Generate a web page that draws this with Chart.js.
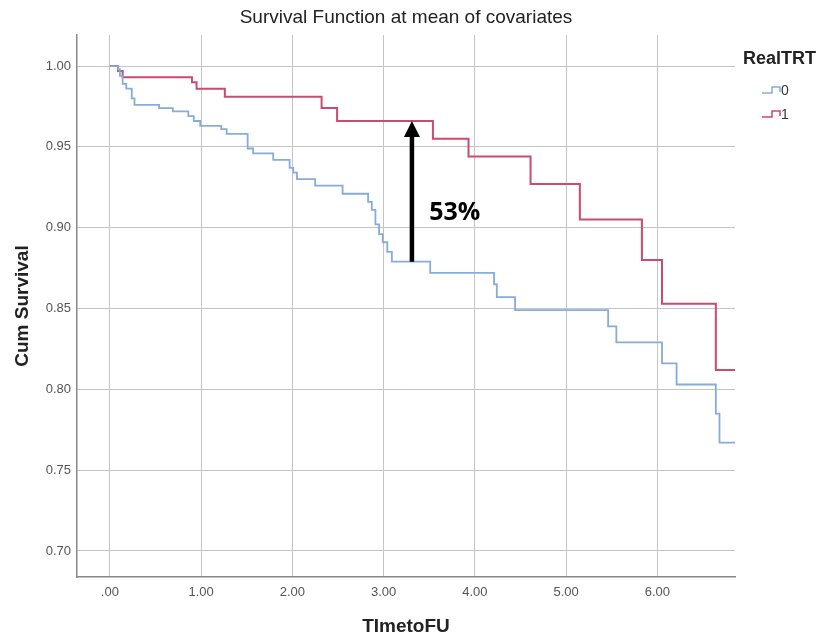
<!DOCTYPE html>
<html>
<head>
<meta charset="utf-8">
<script src="https://cdn.jsdelivr.net/npm/chart.js@4/dist/chart.umd.min.js"></script>
<style>
  body { margin: 0; background: #fff; }
</style>
</head>
<body>
<canvas id="survChart" width="821" height="641"></canvas>
<script>
// Survival curves (time, cum survival)
const timeTrt0 = [0, 0.09, 0.11, 0.14, 0.18, 0.24, 0.27, 0.54, 0.69, 0.86, 0.92, 0.99, 1.22, 1.28, 1.51, 1.57, 1.79, 1.97, 2.01, 2.05, 2.25, 2.55, 2.83, 2.87, 2.91, 2.95, 2.99, 3.04, 3.09, 3.51, 4.21, 4.24, 4.44, 5.46, 5.55, 6.05, 6.21, 6.64, 6.68, 6.85];
const survTrt0 = [1.000, 0.998, 0.994, 0.989, 0.986, 0.980, 0.976, 0.974, 0.972, 0.969, 0.966, 0.963, 0.961, 0.958, 0.949, 0.946, 0.942, 0.937, 0.934, 0.930, 0.926, 0.921, 0.916, 0.911, 0.902, 0.896, 0.891, 0.885, 0.879, 0.872, 0.865, 0.857, 0.849, 0.839, 0.829, 0.816, 0.803, 0.785, 0.767, 0.767];

const timeTrt1 = [0, 0.09, 0.14, 0.90, 0.95, 1.26, 2.32, 2.49, 3.54, 3.93, 4.61, 5.15, 5.83, 6.05, 6.64, 6.85];
const survTrt1 = [1.000, 0.997, 0.993, 0.990, 0.986, 0.981, 0.974, 0.966, 0.955, 0.944, 0.927, 0.905, 0.880, 0.853, 0.812, 0.812];

const groupLabels = ['0', '1'];
const xTickValues = [0, 1, 2, 3, 4, 5, 6];
const xTickLabels = ['.00', '1.00', '2.00', '3.00', '4.00', '5.00', '6.00'];
const yTickValues = [0.70, 0.75, 0.80, 0.85, 0.90, 0.95, 1.00];
const yTickLabels = ['0.70', '0.75', '0.80', '0.85', '0.90', '0.95', '1.00'];

// the arrow annotation: at time 3.31, from blue level up to red level
const arrowAt = { x: 3.31, from: 0.879, to: 0.966 };
const arrowText = '53%';

const colors = ['#86acd9', '#cc4a6e'];

function toPoints(t, s) {
  return t.map((v, i) => ({ x: v, y: s[i] }));
}

// draws the arrow, the "53%" label and the legend on the right
const extras = {
  id: 'extras',
  afterDatasetsDraw: (chart) => {
    const ctx = chart.ctx;
    const xs = chart.scales.x;
    const ys = chart.scales.y;

    ctx.save();
    // arrow
    const ax = xs.getPixelForValue(arrowAt.x);
    const yBottom = ys.getPixelForValue(arrowAt.from);
    const yTip = ys.getPixelForValue(arrowAt.to);
    ctx.strokeStyle = '#000';
    ctx.fillStyle = '#000';
    ctx.lineWidth = 4.5;
    ctx.beginPath();
    ctx.moveTo(ax, yBottom);
    ctx.lineTo(ax, yTip + 12);
    ctx.stroke();
    ctx.beginPath();
    ctx.moveTo(ax, yTip);
    ctx.lineTo(ax - 8, yTip + 16);
    ctx.lineTo(ax + 8, yTip + 16);
    ctx.closePath();
    ctx.fill();

    ctx.font = 'bold 25px "Open Sans"';
    ctx.textAlign = 'left';
    ctx.textBaseline = 'middle';
    ctx.fillText(arrowText, xs.getPixelForValue(3.5), ys.getPixelForValue(0.909));

    // legend
    ctx.fillStyle = '#222';
    ctx.font = 'bold 18px "Liberation Sans", Arial';
    ctx.fillText('RealTRT', 743, 59);
    ctx.font = '14px "Liberation Sans", Arial';
    groupLabels.forEach((lab, i) => {
      const base = 93 + i * 24;
      ctx.strokeStyle = colors[i];
      ctx.lineWidth = 1.5;
      ctx.beginPath();
      ctx.moveTo(762, base);
      ctx.lineTo(772, base);
      ctx.lineTo(772, base - 6);
      ctx.lineTo(780, base - 6);
      ctx.lineTo(780, base - 1);
      ctx.stroke();
      ctx.fillStyle = '#333';
      ctx.fillText(lab, 781, base - 2);
    });
    ctx.restore();
  }
};

new Chart(document.getElementById('survChart').getContext('2d'), {
  type: 'line',
  data: {
    datasets: [
      {
        label: groupLabels[0],
        data: toPoints(timeTrt0, survTrt0),
        borderColor: colors[0],
        borderWidth: 1.8,
        stepped: 'before',
        pointRadius: 0,
        fill: false
      },
      {
        label: groupLabels[1],
        data: toPoints(timeTrt1, survTrt1),
        borderColor: colors[1],
        borderWidth: 2,
        stepped: 'before',
        pointRadius: 0,
        fill: false
      }
    ]
  },
  options: {
    responsive: false,
    animation: false,
    layout: { padding: { left: 0, right: 86, top: 35, bottom: 0 } },
    plugins: {
      legend: { display: false },
      tooltip: { enabled: false },
      title: {
        display: false
      }
    },
    scales: {
      x: {
        type: 'linear',
        min: -0.36,
        max: 6.85,
        afterFit: (scale) => { scale.height = 64; },
        afterBuildTicks: (scale) => { scale.ticks = xTickValues.map(v => ({ value: v })); },
        ticks: {
          padding: 8,
          color: '#555',
          font: { family: '"Liberation Sans", Arial', size: 13 },
          maxRotation: 0,
          callback: (value) => xTickLabels[xTickValues.indexOf(value)]
        },
        grid: { color: '#c4c4c4', lineWidth: 1, drawTicks: false },
        border: { display: true, color: '#888', width: 1.5 },
        title: {
          display: true,
          text: 'TImetoFU',
          color: '#222',
          font: { family: '"Liberation Sans", Arial', size: 19, weight: 'bold' },
          padding: { top: 0, bottom: 3 }
        }
      },
      y: {
        type: 'linear',
        min: 0.6839,
        max: 1.0192,
        afterFit: (scale) => { scale.width = 77; },
        afterBuildTicks: (scale) => { scale.ticks = yTickValues.map(v => ({ value: v })); },
        ticks: {
          padding: 6,
          color: '#555',
          font: { family: '"Liberation Sans", Arial', size: 13 },
          callback: (value) => yTickLabels[yTickValues.indexOf(value)]
        },
        grid: { color: '#c4c4c4', lineWidth: 1, drawTicks: false },
        border: { display: true, color: '#888', width: 1.5 },
        title: {
          display: true,
          text: 'Cum Survival',
          color: '#222',
          font: { family: '"Liberation Sans", Arial', size: 19, weight: 'bold' },
          padding: { top: 11, bottom: 0 }
        }
      }
    }
  },
  plugins: [extras, {
    id: 'mainTitle',
    afterDraw: (chart) => {
      const ctx = chart.ctx;
      ctx.save();
      ctx.fillStyle = '#222';
      ctx.font = '19px "Liberation Sans", Arial';
      ctx.textAlign = 'center';
      ctx.textBaseline = 'middle';
      ctx.fillText('Survival Function at mean of covariates', (chart.chartArea.left + chart.chartArea.right) / 2, 18);
      ctx.restore();
    }
  }]
});
</script>
</body>
</html>
